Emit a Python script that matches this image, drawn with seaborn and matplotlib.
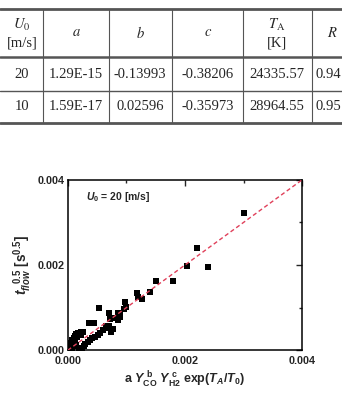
import matplotlib
matplotlib.use("Agg")
import matplotlib.pyplot as plt
from matplotlib.lines import Line2D
import seaborn as sns
import pandas as pd

# Table data (fit coefficients)
col_heads = ["$U_0$\n[m/s]", "$a$", "$b$", "$c$", "$T_\\mathrm{A}$\n[K]", "$R$"]
u0_vals = ["20", "10"]
a_vals = ["1.29E-15", "1.59E-17"]
b_vals = ["-0.13993", "0.02596"]
c_vals = ["-0.38206", "-0.35973"]
ta_vals = ["24335.57", "28964.55"]
r_vals = ["0.94", "0.95"]

# Scatter data, U0 = 20 m/s (values in 1e-3)
x_model = [3.00, 2.21, 2.39, 2.03, 1.79, 1.51, 1.41, 1.26, 1.19, 1.20, 0.98, 0.99,
           0.96, 0.89, 0.85, 0.81, 0.70, 0.53, 0.72, 0.66, 0.74, 0.77,
           0.36, 0.45,
           # upper band near origin
           0.02, 0.04, 0.06, 0.08, 0.10, 0.12, 0.14, 0.17, 0.20, 0.23, 0.26,
           0.10, 0.13, 0.16, 0.19, 0.22, 0.06, 0.09,
           # lower band
           0.20, 0.24, 0.27, 0.30, 0.34, 0.38, 0.42, 0.46, 0.51, 0.55, 0.60,
           0.65, 0.70, 0.86, 0.90,
           # along the fit line
           0.02, 0.05, 0.08, 0.12, 0.15]
y_flow = [3.21, 2.39, 1.95, 1.97, 1.62, 1.63, 1.37, 1.20, 1.34, 1.24, 1.13, 1.02,
          0.96, 0.83, 0.87, 0.75, 0.88, 1.00, 0.73, 0.58, 0.44, 0.50,
          0.63, 0.63,
          0.05, 0.12, 0.18, 0.24, 0.30, 0.34, 0.38, 0.40, 0.41, 0.42, 0.43,
          0.20, 0.26, 0.31, 0.35, 0.37, 0.10, 0.14,
          0.03, 0.06, 0.10, 0.15, 0.19, 0.24, 0.28, 0.32, 0.36, 0.41, 0.47,
          0.52, 0.56, 0.71, 0.79,
          0.01, 0.04, 0.06, 0.10, 0.13]
fit_x = [0.0, 0.004]
fit_y = [0.0, 0.004]

df = pd.DataFrame({"x": [v * 1e-3 for v in x_model], "y": [v * 1e-3 for v in y_flow]})
fit = pd.DataFrame({"x": fit_x, "y": fit_y})

sns.set_style("white")
plt.rcParams["font.family"] = ["Liberation Sans", "DejaVu Sans"]
plt.rcParams["mathtext.fontset"] = "custom"
plt.rcParams["mathtext.rm"] = "Liberation Sans:bold"
plt.rcParams["mathtext.it"] = "Liberation Sans:bold:italic"
plt.rcParams["mathtext.bf"] = "Liberation Sans:bold"

W, H = 342, 393
fig = plt.figure(figsize=(W / 100, H / 100), dpi=100)

# ---- table drawn in pixel coords (from top) ----
def fx(px):
    return px / W

def fy(py):
    return 1 - py / H

line_col = "#555555"
for py, lw in [(9, 2.0), (57, 1.8), (91, 1.0), (123, 2.0)]:
    fig.add_artist(Line2D([0, 1], [fy(py), fy(py)], color=line_col, lw=lw))
for px in [43, 109, 172, 243, 312]:
    fig.add_artist(Line2D([fx(px), fx(px)], [fy(9), fy(123)], color=line_col, lw=0.8))

centers = [22, 76, 140, 208, 277, 332]
serif = ["Liberation Serif", "DejaVu Serif"]
for cx, head in zip(centers, col_heads):
    fig.text(fx(cx), fy(33), head, ha="center", va="center", fontsize=10.5,
             family=serif, math_fontfamily="stix", linespacing=1.3)

rows = [u0_vals, a_vals, b_vals, c_vals, ta_vals]
for cx, vals in zip(centers[:5], rows):
    for py, v in zip([74, 107], vals):
        fig.text(fx(cx), fy(py), v, ha="center", va="center", fontsize=10.5, family=serif)
for py, v in zip([74, 107], r_vals):
    fig.text(fx(316), fy(py), v, ha="left", va="center", fontsize=10.5, family=serif)

# ---- scatter plot ----
ax = fig.add_axes([67.7 / W, 42.7 / H, 234.6 / W, 170.6 / H])
sns.lineplot(data=fit, x="x", y="y", ax=ax, color="#e0405a", lw=1.0,
             linestyle=(0, (3, 2)), zorder=3)
sns.scatterplot(data=df, x="x", y="y", ax=ax, marker="s", color="black",
                s=24, linewidth=0, zorder=2)

ax.set_xlim(0, 0.004)
ax.set_ylim(0, 0.004)
ax.set_xticks([0, 0.002, 0.004])
ax.set_yticks([0, 0.002, 0.004])
ax.set_xticks([0.001, 0.003], minor=True)
ax.set_yticks([0.001, 0.003], minor=True)
ax.set_xticklabels(["0.000", "0.002", "0.004"])
ax.set_yticklabels(["0.000", "0.002", "0.004"])
ax.tick_params(which="both", direction="in", top=True, right=True, width=1)
ax.tick_params(which="major", length=4, labelsize=7.8)
ax.tick_params(axis="x", which="major", pad=4)
ax.tick_params(axis="y", which="major", pad=2)
ax.tick_params(which="minor", length=2.5)
for lab in ax.get_xticklabels() + ax.get_yticklabels():
    lab.set_fontweight("bold")
for sp in ax.spines.values():
    sp.set_linewidth(1.1)
    sp.set_color("black")

ax.set_xlabel(r"a $Y_{\mathrm{CO}}^{\ \mathrm{b}}$ $Y_{\mathrm{H2}}^{\ \mathrm{c}}$ exp($T_{A}$/$T_0$)",
              fontsize=9, fontweight="bold", labelpad=3)
ax.set_ylabel(r"$t_{flow}^{\ \ 0.5}$ [s$^{0.5}$]", fontsize=9.8, fontweight="bold", labelpad=3)
ax.text(0.08, 0.9, r"$U_0$ = 20 [m/s]", transform=ax.transAxes, fontsize=7.5,
        fontweight="bold", va="center")

fig.savefig("out.png", dpi=100)
